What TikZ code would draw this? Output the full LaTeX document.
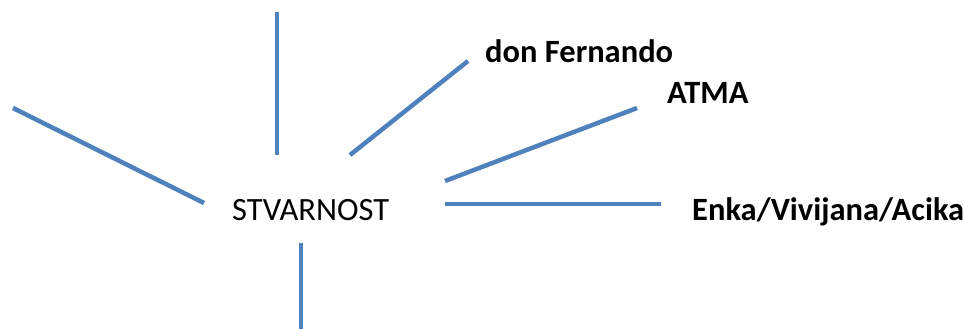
\documentclass[tikz,border=0pt]{standalone}
\usepackage{fontspec}
\setmainfont{Carlito}
\usepackage{tikz}
\definecolor{rayblue}{HTML}{4F81BD}
\tikzstyle{ray}=[draw=rayblue,line width=4.5pt]
\tikzstyle{word}=[inner sep=0pt,anchor=base west,font=\fontsize{32.5}{38}\selectfont]
\tikzstyle{boldword}=[word,font=\fontsize{32.5}{38}\selectfont\bfseries]

\begin{document}
\begin{tikzpicture}[x=1pt,y=-1pt]
\useasboundingbox (0,0) rectangle (963,329);
\node[word] at (232, 220) (real) {STVARNOST};
\node[boldword] at (485, 63) (fer) {don Fernando};
\node[boldword] at (667, 103) (atma) {ATMA};
\node[boldword] at (692, 220) (enka) {Enka/Vivijana/Acika};
\coordinate (l1a) at (13, 108);  \coordinate (l1b) at (204, 203);
\coordinate (l2a) at (277, 12);  \coordinate (l2b) at (277, 155);
\coordinate (l3a) at (350, 155); \coordinate (l3b) at (468, 61);
\coordinate (l4a) at (445, 181); \coordinate (l4b) at (637, 108);
\coordinate (l5a) at (445, 204); \coordinate (l5b) at (661, 204);
\coordinate (l6a) at (301, 243); \coordinate (l6b) at (301, 329);
\draw[ray] (l1a) -- (l1b);
\draw[ray] (l2a) -- (l2b);
\draw[ray] (l3a) -- (l3b);
\draw[ray] (l4a) -- (l4b);
\draw[ray] (l5a) -- (l5b);
\draw[ray] (l6a) -- (l6b);
\end{tikzpicture}
\end{document}
